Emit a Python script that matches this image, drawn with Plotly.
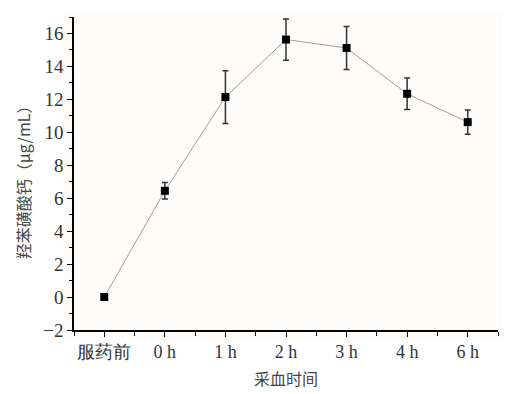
import plotly.graph_objects as go

categories = ["服药前", "0 h", "1 h", "2 h", "3 h", "4 h", "6 h"]
values = [0.0, 6.45, 12.14, 15.63, 15.12, 12.34, 10.62]
errors = [0.0, 0.5, 1.6, 1.25, 1.3, 0.95, 0.74]
y_ticks = [-2, 0, 2, 4, 6, 8, 10, 12, 14, 16]

xs = list(range(len(categories)))
font_num = "Liberation Serif, Times New Roman, serif"
font_cjk = "Noto Sans CJK SC"
txt_color = "#333333"

fig = go.Figure()
fig.add_trace(go.Scatter(
    x=xs, y=values, mode="lines+markers",
    line=dict(color="#a0a0a0", width=1),
    marker=dict(symbol="square", size=8, color="black"),
    error_y=dict(type="data", array=errors, visible=True,
                 color="#333333", thickness=1.5, width=3),
    showlegend=False,
))

fig.update_layout(
    width=516, height=394,
    margin=dict(l=74, r=18, t=17, b=64),
    paper_bgcolor="white",
    plot_bgcolor="#fdfcfa",
    font=dict(family=font_num, size=18, color=txt_color),
    shapes=[dict(type="rect", xref="paper", yref="paper",
                 x0=-0.025, x1=1.012, y0=-0.03, y1=1.015,
                 fillcolor="#fdfcfa", line=dict(width=0), layer="below")],
    annotations=[
        dict(text="采血时间", xref="paper", yref="paper", x=0.5, y=-0.153,
             xanchor="center", yanchor="middle", showarrow=False,
             font=dict(family=font_cjk, size=16, color="#444444")),
        dict(text="羟苯磺酸钙（μg/mL）", xref="paper", yref="paper", x=-0.12, y=0.485,
             xanchor="center", yanchor="middle", showarrow=False, textangle=-90,
             font=dict(family=font_cjk, size=16, color="#444444")),
    ],
    xaxis=dict(
        range=[-0.5, 6.5], tickmode="array", tickvals=xs, ticktext=categories,
        automargin=False,
        showgrid=False, zeroline=False, showline=True, linecolor="black", linewidth=1.5,
        ticks="outside", ticklen=5, tickwidth=1, tickcolor="black",
        minor=dict(tick0=-0.5, dtick=1, ticks="outside", ticklen=4, tickcolor="black", showgrid=False),
        tickfont=dict(family=font_num, size=18, color=txt_color),
    ),
    yaxis=dict(
        range=[-2, 17], tickmode="array", tickvals=y_ticks,
        automargin=False,
        showgrid=False, zeroline=False, showline=True, linecolor="black", linewidth=1.5,
        ticks="outside", ticklen=5, tickwidth=1, tickcolor="black",
        minor=dict(tick0=-1, dtick=2, ticks="outside", ticklen=3, tickcolor="black", showgrid=False),
        tickfont=dict(family=font_num, size=19, color=txt_color),
    ),
)

fig.write_html("out.html", config={"displayModeBar": False},
               post_script="document.body.style.margin='0';document.body.style.padding='0';")
